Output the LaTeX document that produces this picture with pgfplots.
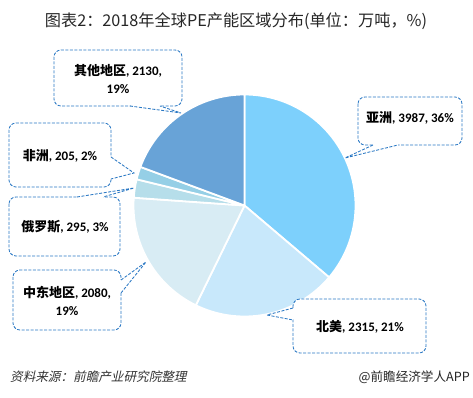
\documentclass[border=0pt]{standalone}
\usepackage{pgfplots}
\pgfplotsset{compat=1.18}
\usepackage{fontspec}
\setmainfont{Carlito}
\newfontfamily\cjk{Noto Sans CJK SC}
\newfontfamily\cjkit[FakeSlant=0.22]{Noto Sans CJK SC}
\newfontfamily\carl{Carlito}
\definecolor{cA}{HTML}{7DD0FC}
\definecolor{cN}{HTML}{C8E8FB}
\definecolor{cM}{HTML}{D8ECF4}
\definecolor{cR}{HTML}{B6DEEA}
\definecolor{cF}{HTML}{95CFE6}
\definecolor{cO}{HTML}{68A3D7}
\definecolor{cB}{HTML}{2A78C4}
\newcommand\lab[2]{{\cjk\bfseries #1}{\carl\bfseries #2}}
\begin{document}
\begin{tikzpicture}
\fill[white] (0,0) rectangle (473bp,398bp);
% values (10k t)
\def\vA{3987}\def\vN{2315}\def\vM{2080}\def\vR{295}\def\vF{205}\def\vO{2130}
\pgfmathsetmacro\tot{\vA+\vN+\vM+\vR+\vF+\vO}
\pgfmathsetmacro\aA{90}
\pgfmathsetmacro\aB{\aA-360*(\vA/\tot)}
\pgfmathsetmacro\aC{\aB-360*(\vN/\tot)}
\pgfmathsetmacro\aD{\aC-360*(\vM/\tot)}
\pgfmathsetmacro\aE{\aD-360*(\vR/\tot)}
\pgfmathsetmacro\aF{\aE-360*(\vF/\tot)}
\pgfmathsetmacro\aG{\aF-360*(\vO/\tot)}
\begin{axis}[at={(244.5bp,192.5bp)}, anchor=origin, x=1bp, y=1bp,
  xmin=-120, xmax=120, ymin=-120, ymax=120, hide axis, clip=false,
  samples=90,
  every axis plot/.append style={draw=white, line width=1.8bp, line join=round}]
\addplot[fill=cA, domain=\aB:\aA, variable=\t] ({111*cos(\t)},{111*sin(\t)}) -- (axis cs:0,0) -- cycle;
\addplot[fill=cN, domain=\aC:\aB, variable=\t] ({111*cos(\t)},{111*sin(\t)}) -- (axis cs:0,0) -- cycle;
\addplot[fill=cM, domain=\aD:\aC, variable=\t] ({111*cos(\t)},{111*sin(\t)}) -- (axis cs:0,0) -- cycle;
\addplot[fill=cR, domain=\aE:\aD, variable=\t] ({111*cos(\t)},{111*sin(\t)}) -- (axis cs:0,0) -- cycle;
\addplot[fill=cF, domain=\aF:\aE, variable=\t] ({111*cos(\t)},{111*sin(\t)}) -- (axis cs:0,0) -- cycle;
\addplot[fill=cO, domain=\aG:\aF, variable=\t] ({111*cos(\t)},{111*sin(\t)}) -- (axis cs:0,0) -- cycle;
\end{axis}
\begin{scope}[x=1bp, y=-1bp, shift={(0,398bp)},
  box/.style={draw=cB, fill=white, line width=0.85bp, dash pattern=on 3bp off 1.5bp, rounded corners=7bp},
  ptr/.style={draw=cB, line width=0.85bp, dash pattern=on 3bp off 1.5bp},
  lbl/.style={align=center, inner sep=0pt, font=\fontsize{13bp}{17.5bp}\selectfont}]
% title
\node[text=black!85, inner sep=0pt] at (236,21) {\cjk\fontsize{16.2bp}{18bp}\selectfont 图表2：2018年全球PE产能区域分布(单位：万吨，\%)};
% Other
\draw[box] (54,50) rectangle (182,106);
\fill[white] (130.5,104.5) rectangle (159.5,107.5);
\fill[white] (130,106) -- (181,113) -- (160,106) -- cycle;
\draw[ptr] (130,106) -- (181,113) -- (160,106);
\node[lbl] at (118,79) {\lab{其他地区}{, 2130,}\\{\carl\bfseries 19\%}};
% Africa
\draw[box] (9,123) rectangle (111,187);
\fill[white] (109.5,157.5) rectangle (112.5,178.5);
\fill[white] (111,157) -- (134,173) -- (111,179) -- cycle;
\draw[ptr] (111,157) -- (134,173) -- (111,179);
\node[lbl] at (60,156) {\lab{非洲}{, 205, 2\%}};
% Russia
\draw[box] (9,197) rectangle (120,256);
\fill[white] (77.5,195.5) rectangle (102.5,198.5);
\fill[white] (77,197) -- (134,188) -- (103,197) -- cycle;
\draw[ptr] (77,197) -- (134,188) -- (103,197);
\node[lbl] at (65,227) {\lab{俄罗斯}{, 295, 3\%}};
% Middle East
\draw[box] (13,270) rectangle (121,330);
\fill[white] (119.5,280.5) rectangle (122.5,292.5);
\fill[white] (121,280) -- (146,262) -- (121,293) -- cycle;
\draw[ptr] (121,280) -- (146,262) -- (121,293);
\node[lbl] at (67,301) {\lab{中东地区}{, 2080,}\\{\carl\bfseries 19\%}};
% Asia
\draw[box] (358,97) rectangle (462,145);
\fill[white] (373.5,143.5) rectangle (397.5,146.5);
\fill[white] (373,145) -- (345,158) -- (398,145) -- cycle;
\draw[ptr] (373,145) -- (345,158) -- (398,145);
\node[lbl] at (410,118) {\lab{亚洲}{, 3987, 36\%}};
% North America
\draw[box] (293,299) rectangle (426,353);
\fill[white] (291.5,308.5) rectangle (294.5,319.5);
\fill[white] (293,308) -- (267,315) -- (293,320) -- cycle;
\draw[ptr] (293,308) -- (267,315) -- (293,320);
\node[lbl] at (360,327) {\lab{北美}{, 2315, 21\%}};
% footer
\node[anchor=west, inner sep=0pt, text=black!80] at (10,377) {\cjkit\fontsize{12.6bp}{14bp}\selectfont 资料来源：前瞻产业研究院整理};
\node[anchor=east, inner sep=0pt, text=black!85] at (470,377) {\cjk\fontsize{12.6bp}{14bp}\selectfont @前瞻经济学人APP};
\end{scope}
\end{tikzpicture}
\end{document}
